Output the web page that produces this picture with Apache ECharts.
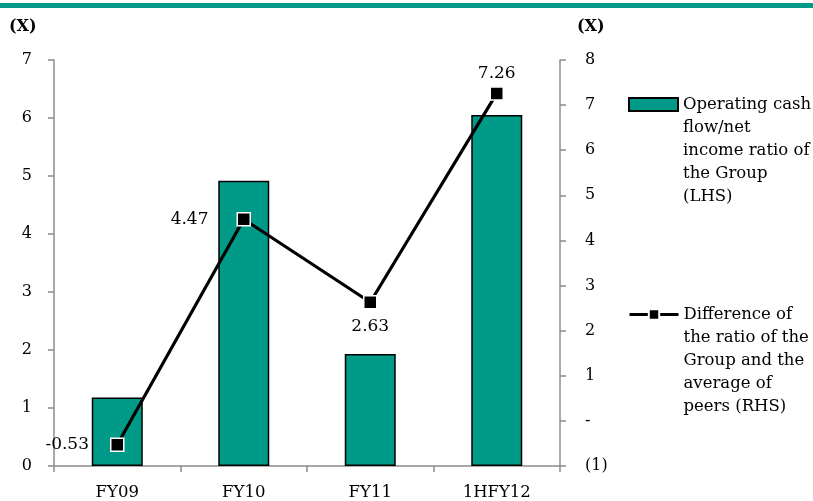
<!DOCTYPE html>
<html>
<head>
<meta charset="utf-8">
<script src="https://cdn.jsdelivr.net/npm/echarts@6/dist/echarts.min.js"></script>
<style>html,body{margin:0;padding:0;background:#fff}#c{width:813px;height:501px}</style>
</head>
<body>
<div id="c"></div>
<script>
var categories = ['FY09', 'FY10', 'FY11', '1HFY12'];
var ratioValues = [1.18, 4.92, 1.93, 6.05];
var diffValues = [-0.53, 4.47, 2.63, 7.26];
var diffLabelPos = ['left', 'left', 'bottom', 'top'];
var diffLabelDist = [21, 28, 9, 4];
var leftTicks = [0, 7, 1];
var rightTicks = [-1, 8, 1];
var barName = 'Operating cash\nflow/net\nincome ratio of\nthe Group\n(LHS)';
var lineName = 'Difference of\nthe ratio of the\nGroup and the\naverage of\npeers (RHS)';

var FONT = 'DejaVu Serif';
var TEAL = '#009A89';
var AXIS = '#8c8c8c';

var chart = echarts.init(document.getElementById('c'), null, {renderer: 'canvas'});
var legendText = {fontFamily: FONT, fontSize: 16.5, color: '#000', lineHeight: 23};
chart.setOption({
  animation: false,
  backgroundColor: '#fff',
  textStyle: {fontFamily: FONT},
  grid: {left: 54, right: 253, top: 60, bottom: 34, containLabel: false},
  graphic: [
    {type: 'rect', shape: {x: 0, y: 3, width: 813, height: 5}, style: {fill: TEAL}},
    {type: 'text', left: 9, top: 19, style: {text: '(X)', font: 'bold 16px "' + FONT + '"', fill: '#000'}},
    {type: 'text', left: 577, top: 19, style: {text: '(X)', font: 'bold 16px "' + FONT + '"', fill: '#000'}}
  ],
  legend: [
    {
      data: [{name: barName, icon: 'rect'}], left: 628, top: 1, orient: 'vertical', padding: 0,
      itemWidth: 49, itemHeight: 13,
      formatter: function (n) { return '\n\n\n\n' + n; },
      textStyle: legendText
    },
    {
      data: [lineName], left: 628, top: 211, orient: 'vertical', padding: 0,
      itemWidth: 49, itemHeight: 13,
      lineStyle: {width: 3, color: '#000'},
      formatter: function (n) { return '\n\n\n\n' + n; },
      textStyle: legendText
    }
  ],
  xAxis: {
    type: 'category', data: categories,
    axisLine: {lineStyle: {color: AXIS, width: 1.5}},
    axisTick: {show: true, length: 6, lineStyle: {color: AXIS, width: 1.5}},
    axisLabel: {color: '#000', fontSize: 16.5, fontFamily: FONT, margin: 18}
  },
  yAxis: [
    {
      type: 'value', min: leftTicks[0], max: leftTicks[1], interval: leftTicks[2],
      splitLine: {show: false},
      axisLine: {show: true, lineStyle: {color: AXIS, width: 1.5}},
      axisTick: {show: true, length: 6, lineStyle: {color: AXIS, width: 1.5}},
      axisLabel: {color: '#000', fontSize: 16, fontFamily: FONT, margin: 22}
    },
    {
      type: 'value', min: rightTicks[0], max: rightTicks[1], interval: rightTicks[2],
      position: 'right',
      splitLine: {show: false},
      axisLine: {show: true, lineStyle: {color: AXIS, width: 1.5}},
      axisTick: {show: true, length: 6, lineStyle: {color: AXIS, width: 1.5}},
      axisLabel: {
        color: '#000', fontSize: 16, fontFamily: FONT, margin: 25,
        formatter: function (v) { return v === 0 ? '-' : (v < 0 ? '(' + Math.abs(v) + ')' : String(v)); }
      }
    }
  ],
  series: [
    {
      name: barName, type: 'bar', data: ratioValues, yAxisIndex: 0, barWidth: 51,
      itemStyle: {color: TEAL, borderColor: '#000', borderWidth: 1.5}
    },
    {
      name: lineName, type: 'line', yAxisIndex: 1, z: 5,
      data: diffValues.map(function (v, i) {
        return {value: v, label: {position: diffLabelPos[i], distance: diffLabelDist[i]}};
      }),
      lineStyle: {color: '#000', width: 3.2},
      symbol: 'rect', symbolSize: 13,
      itemStyle: {color: '#000', borderColor: '#fff', borderWidth: 1.5},
      label: {show: true, color: '#000', fontSize: 17, fontFamily: FONT,
        formatter: function (p) { return p.value.toFixed(2); }}
    }
  ]
});
</script>
</body>
</html>
